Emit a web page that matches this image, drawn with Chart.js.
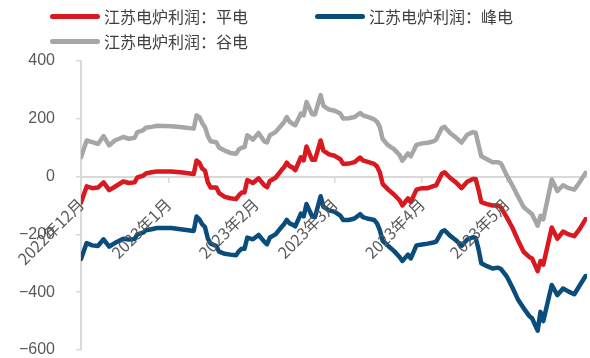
<!DOCTYPE html>
<html lang="zh">
<head>
<meta charset="utf-8">
<title>江苏电炉利润</title>
<script src="https://cdn.jsdelivr.net/npm/chart.js@4/dist/chart.umd.min.js"></script>
<style>
  html, body { margin: 0; padding: 0; background: #fff; }
  #wrap { position: relative; width: 590px; height: 358px; }
  #profitChart { position: absolute; left: 0; top: 0; }
  .legend-item {
    position: absolute; display: flex; align-items: center; height: 20px;
    font: 16px "Noto Sans CJK SC", sans-serif; color: #404040; white-space: nowrap;
  }
  .legend-swatch { width: 50px; height: 5px; border-radius: 3px; margin-right: 4px; }
</style>
</head>
<body>
<div id="wrap">
  <canvas id="profitChart" width="590" height="358"></canvas>
  <div id="legend"></div>
</div>
<script>
// trading dates, Dec 2022 - May 2023
const dates = [
  "2022-12-01", "2022-12-03", "2022-12-05", "2022-12-07", "2022-12-09", "2022-12-11", "2022-12-13", "2022-12-16",
  "2022-12-18", "2022-12-20", "2022-12-21", "2022-12-23", "2022-12-24", "2022-12-26", "2022-12-28",
  "2023-01-02", "2023-01-06", "2023-01-10", "2023-01-11", "2023-01-12", "2023-01-13", "2023-01-14", "2023-01-15",
  "2023-01-16", "2023-01-18", "2023-01-19", "2023-01-21", "2023-01-23", "2023-01-25", "2023-01-26", "2023-01-27",
  "2023-01-28", "2023-01-29", "2023-01-31",
  "2023-02-02", "2023-02-04", "2023-02-05", "2023-02-06", "2023-02-08", "2023-02-10", "2023-02-11", "2023-02-12",
  "2023-02-13", "2023-02-14", "2023-02-15", "2023-02-17", "2023-02-18", "2023-02-19", "2023-02-21", "2023-02-22",
  "2023-02-24", "2023-02-25", "2023-02-27",
  "2023-03-01", "2023-03-03", "2023-03-04", "2023-03-06", "2023-03-08", "2023-03-10", "2023-03-11", "2023-03-13",
  "2023-03-15", "2023-03-16", "2023-03-17", "2023-03-18", "2023-03-20", "2023-03-22", "2023-03-24", "2023-03-25",
  "2023-03-27", "2023-03-28", "2023-03-30",
  "2023-04-01", "2023-04-03", "2023-04-05", "2023-04-06", "2023-04-08", "2023-04-09", "2023-04-11", "2023-04-13",
  "2023-04-15", "2023-04-17", "2023-04-19", "2023-04-20", "2023-04-21", "2023-04-22", "2023-04-24", "2023-04-26",
  "2023-04-28", "2023-04-29",
  "2023-05-01", "2023-05-03", "2023-05-05", "2023-05-07", "2023-05-09", "2023-05-10", "2023-05-12", "2023-05-13",
  "2023-05-14", "2023-05-17", "2023-05-19", "2023-05-21", "2023-05-23", "2023-05-25", "2023-05-27", "2023-05-29"
];

// 平电 (flat-rate power) profit, 元/吨
const flatProfit = [
  -90, -34, -40, -38, -20, -47, -35, -17, -22, -20, -3, 3, 11, 15, 18,
  18, 14, 9, 56, 48, 28, 20, -20, -38, -38, -57, -70, -75, -78, -65, -55, -55, -12, -22,
  -6, -30, -37, -15, -4, 21, 32, 48, 36, 32, 22, 67, 56, 104, 58, 58, 125, 90, 77,
  72, 60, 44, 45, 50, 66, 56, 50, 44, 35, 15, -25, -45, -62, -82, -100, -75, -88, -45,
  -40, -40, -33, -30, 10, 15, -5, -20, -40, -18, -8, -8, -45, -88, -95, -100, -100, -107,
  -140, -176, -220, -260, -278, -283, -327, -292, -305, -176, -215, -190, -200, -206, -180, -147
];

// 峰电 (peak-rate power) profit
const peakProfit = [
  -285, -230, -238, -240, -217, -242, -230, -215, -218, -216, -200, -194, -186, -182, -178,
  -178, -183, -188, -138, -148, -165, -175, -215, -232, -240, -260, -267, -270, -272, -258, -250, -250, -211, -217,
  -202, -225, -234, -211, -200, -176, -165, -150, -162, -166, -172, -128, -138, -95, -138, -140, -68, -105, -117,
  -122, -135, -150, -150, -145, -130, -140, -146, -150, -162, -185, -222, -240, -257, -278, -292, -270, -283, -238,
  -235, -232, -228, -225, -190, -186, -205, -220, -240, -218, -210, -212, -250, -300, -310, -318, -315, -320,
  -345, -383, -425, -455, -482, -490, -533, -468, -500, -375, -410, -387, -398, -407, -375, -344
];

// 谷电 (valley-rate power) profit
const valleyProfit = [
  67, 125, 119, 113, 140, 108, 125, 137, 131, 134, 154, 160, 169, 172, 176,
  174, 171, 166, 212, 206, 185, 171, 140, 122, 119, 100, 90, 82, 79, 94, 100, 102, 143, 128,
  151, 122, 118, 143, 154, 177, 188, 206, 190, 183, 178, 218, 212, 258, 216, 215, 282, 245, 232,
  228, 218, 201, 202, 206, 220, 212, 206, 198, 190, 172, 130, 108, 95, 75, 55, 80, 70, 110,
  115, 117, 122, 128, 168, 172, 150, 135, 118, 145, 154, 152, 110, 70, 60, 50, 50, 45,
  5, -30, -68, -105, -122, -130, -170, -136, -148, -10, -50, -30, -40, -45, -18, 13
];

const seriesNames = ["江苏电炉利润：平电", "江苏电炉利润：峰电", "江苏电炉利润：谷电"];
const seriesColors = ["#D9181F", "#0A4C7C", "#A6A6A6"];

const monthTicks = ["2022-12-01", "2023-01-01", "2023-02-01", "2023-03-01", "2023-04-01", "2023-05-01"];
const monthLabels = ["2022年12月", "2023年1月", "2023年2月", "2023年3月", "2023年4月", "2023年5月"];

const DAY_MS = 86400000;
const origin = Date.parse(dates[0]);
const dayOf = (d) => (Date.parse(d) - origin) / DAY_MS;

function toPoints(values) {
  return values.map((v, i) => ({ x: dayOf(dates[i]), y: v }));
}

// legend laid out in two columns like the original report
const legendSlots = [{ left: 50, top: 6 }, { left: 315, top: 6 }, { left: 50, top: 31 }];
const legendEl = document.getElementById("legend");
seriesNames.forEach((name, i) => {
  const item = document.createElement("div");
  item.className = "legend-item";
  item.style.left = legendSlots[i].left + "px";
  item.style.top = legendSlots[i].top + "px";
  item.innerHTML = `<span class="legend-swatch" style="background:${seriesColors[i]}"></span><span>${name}</span>`;
  legendEl.appendChild(item);
});

Chart.defaults.font.family = "'Noto Sans CJK SC', sans-serif";

const lineStyle = {
  borderWidth: 4.5,
  pointRadius: 0,
  tension: 0,
  fill: false,
  borderJoinStyle: "round",
  borderCapStyle: "round",
};

// labels may hang outside the plot, don't let them shrink it
function noLabelPadding(scale) {
  scale.paddingLeft = 0;
  scale.paddingRight = 0;
  scale.paddingTop = 0;
  scale.paddingBottom = 0;
}

const ctx = document.getElementById("profitChart").getContext("2d");
new Chart(ctx, {
  type: "line",
  data: {
    datasets: [
      { label: seriesNames[0], data: toPoints(flatProfit), borderColor: seriesColors[0], ...lineStyle },
      { label: seriesNames[1], data: toPoints(peakProfit), borderColor: seriesColors[1], ...lineStyle },
      { label: seriesNames[2], data: toPoints(valleyProfit), borderColor: seriesColors[2], ...lineStyle },
    ],
  },
  options: {
    responsive: false,
    animation: false,
    devicePixelRatio: 1,
    layout: { padding: { top: 61, left: 19, right: 3, bottom: 8 } },
    plugins: {
      legend: { display: false },
      tooltip: { enabled: false },
    },
    scales: {
      x: {
        type: "linear",
        position: { y: 0 },
        min: 0,
        max: 179.5,
        afterBuildTicks: (scale) => {
          scale.ticks = monthTicks.map((d) => ({ value: dayOf(d) }));
        },
        afterFit: noLabelPadding,
        ticks: {
          autoSkip: false,
          minRotation: 45,
          maxRotation: 45,
          padding: 13,
          z: 1,
          color: "#595959",
          font: { size: 16 },
          callback: (value) => monthLabels[monthTicks.findIndex((d) => dayOf(d) === value)],
        },
        grid: { drawOnChartArea: false, drawTicks: true, tickLength: 5, color: "#D9D9D9", lineWidth: 1.5 },
        border: { color: "#D9D9D9", width: 2 },
      },
      y: {
        min: -600,
        max: 400,
        afterFit: (scale) => {
          noLabelPadding(scale);
          scale.width = 62;
        },
        ticks: {
          stepSize: 200,
          padding: 21,
          color: "#595959",
          font: { size: 16, family: "'Liberation Sans', sans-serif", lineHeight: 1 },
          callback: (value) => String(value).replace("-", "\u2212"),
        },
        grid: { drawOnChartArea: false, drawTicks: true, tickLength: 5, color: "#D9D9D9", lineWidth: 1.5 },
        border: { color: "#D9D9D9", width: 2 },
      },
    },
  },
});
</script>
</body>
</html>
